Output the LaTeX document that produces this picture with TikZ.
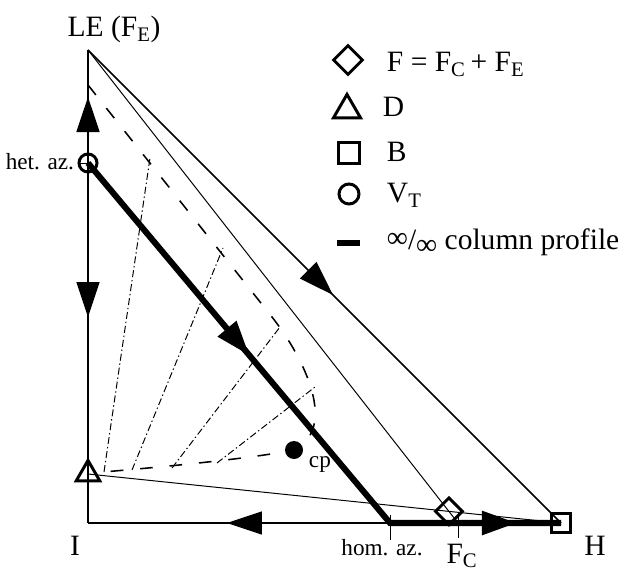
\documentclass[tikz,border=0pt]{standalone}
\usepackage{fontspec}
\setmainfont{Liberation Serif}
\usetikzlibrary{arrows.meta,shapes.geometric,decorations.markings}

\newcommand{\bigfont}{\fontsize{21}{24}\selectfont}
\newcommand{\smallfont}{\fontsize{16.5}{19}\selectfont}

\begin{document}
\begin{tikzpicture}[x=0.025cm, y=-0.025cm,
  ax/.style={line width=1.1pt},
  fineline/.style={line width=0.7pt},
  profile/.style={line width=4.3pt, line join=miter},
  pinch/.style={line width=1.1pt, dash pattern=on 9pt off 12pt},
  tie/.style={line width=0.7pt, dash pattern=on 5pt off 2pt on 1pt off 2pt},
  mk/.style={draw, line width=2.1pt, inner sep=0pt},
  arrowat/.style={postaction={decorate, decoration={markings,
      mark=at position #1 with {\arrow{Triangle[length=0.875cm, width=0.575cm]}}}}},
  lbl/.style={font=\bigfont},
  sml/.style={font=\smallfont}]
  \useasboundingbox (0,0) rectangle (618,570);
  % corners and special points
  \coordinate (LE) at (88,50);
  \coordinate (I) at (88,523);
  \coordinate (H) at (561,523);
  \coordinate (hetaz) at (88,163);
  \coordinate (homaz) at (390,523);
  \coordinate (FC) at (458,523);
  \coordinate (D) at (88,474);
  \coordinate (F) at (intersection of LE--FC and D--H);
  \coordinate (cp) at (294,450);
  % pinch curve points
  \coordinate (p0) at (88,85);
  \coordinate (p1) at (272,317);
  \coordinate (p2) at (103,472);
  \coordinate (u1) at (150,158);
  \coordinate (u2) at (223,248);
  \coordinate (u3) at (280,327);
  \coordinate (u4) at (315,387);
  \coordinate (l1) at (104,472);
  \coordinate (l2) at (132,470);
  \coordinate (l3) at (172,468);
  \coordinate (l4) at (217,463);
  % triangle edges
  \draw[ax, arrowat=0.584] (hetaz) -- (LE);
  \draw[ax, arrowat=0.428] (hetaz) -- (I);
  \draw[ax, arrowat=0.54] (homaz) -- (I);
  \draw[ax] (homaz) -- (H);
  \draw[ax, arrowat=0.518] (LE) -- (H);
  % balance lines
  \draw[fineline] (LE) -- (FC);
  \draw[fineline] (D) -- (H);
  % pinch curve and tie lines
  \draw[pinch] (p0) -- (p1) .. controls (305,359) and (338,428) .. (cp)
    .. controls (250,459) and (150,468) .. (p2);
  \foreach \k in {1,...,4}
    \draw[tie] (l\k) -- (u\k);
  % column profile
  \draw[profile, arrowat=0.392, arrowat=0.931] (hetaz) -- (homaz) -- (H);
  % ticks
  \draw[fineline] (hetaz) ++(-10,0) -- ++(12,0);
  \draw[fineline] (homaz) ++(0,-8) -- ++(0,25);
  \draw[fineline] (FC) ++(0,-8) -- ++(0,23);
  % markers
  \node[mk, regular polygon, regular polygon sides=3, minimum size=0.68cm] (Dmk) at (D) {};
  \node[mk, diamond, minimum size=0.7cm] (Fmk) at (F) {};
  \node[mk, rectangle, minimum size=0.48cm] (Bmk) at (H) {};
  \node[mk, circle, minimum size=0.45cm] (Vmk) at (hetaz) {};
  \node[circle, fill, inner sep=0pt, minimum size=0.45cm] (cpdot) at (cp) {};
  % labels
  \node[lbl, anchor=base] (LElbl) at (114,37) {LE (F\textsubscript{E})};
  \node[lbl, anchor=base] (Ilbl) at (75,555) {I};
  \node[lbl, anchor=base] (Hlbl) at (595,555) {H};
  \node[lbl, anchor=base] (FClbl) at (462,563) {F\textsubscript{C}};
  \node[sml, anchor=base] (homlbl) at (382,555) {hom. az.};
  \node[sml, anchor=base east] (hetlbl) at (79,170) {het. az.};
  \node[sml, anchor=base west] (cplbl) at (304,467) {cp};
  % legend
  \node[mk, diamond, minimum size=0.75cm] (legF) at (348,60) {};
  \node[mk, regular polygon, regular polygon sides=3, minimum size=0.78cm] (legD) at (347,110) {};
  \node[mk, rectangle, minimum size=0.52cm] (legB) at (349,153) {};
  \node[mk, circle, minimum size=0.5cm] (legV) at (349,194) {};
  \draw[profile] (337,243) -- (360,243);
  \node[lbl, anchor=base west] (legFt) at (382,72) {F = F\textsubscript{C}\,+ F\textsubscript{E}};
  \node[lbl, anchor=base west] (legDt) at (378,117) {D};
  \node[lbl, anchor=base west] (legBt) at (382,162) {B};
  \node[lbl, anchor=base west] (legVt) at (382,203) {V\textsubscript{T}};
  \node[lbl, anchor=base west] (legPt) at (382,250)
    {\raisebox{0.2ex}{∞}/\raisebox{-0.35ex}{∞} column profile};
\end{tikzpicture}
\end{document}
